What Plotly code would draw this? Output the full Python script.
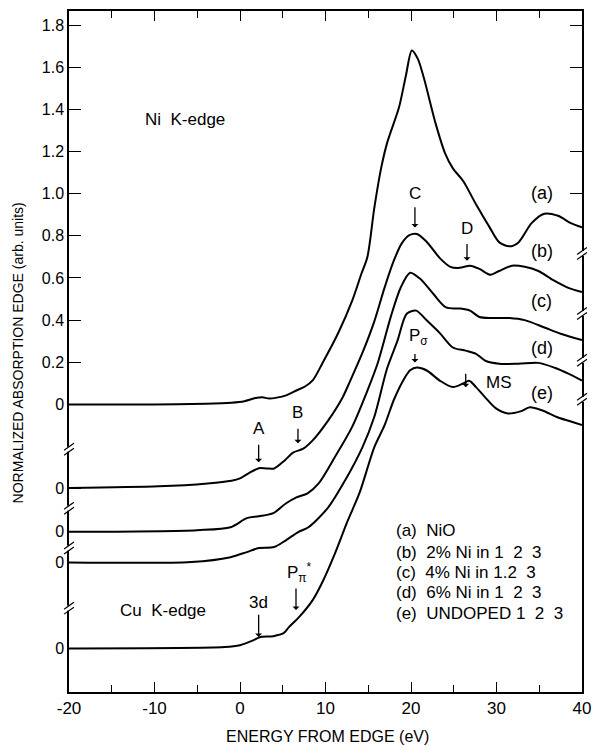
import plotly.graph_objects as go

# ---------------- data (energy in eV, normalized absorption) ----------------
energy_a = [-20, -10, -4, -1, 0.5, 1.8, 2.6, 3.4, 4.3, 5.4, 6.6, 7.6, 8.5, 9.7, 11.5, 13.1, 14.2, 14.9,
            15.7, 16.5, 17.2, 18.6, 19.4, 20.1, 20.8, 21.5, 22.9, 24.0, 24.9, 26.1, 27.6, 29.2, 30.3,
            31.5, 32.6, 34.1, 35.6, 37.2, 38.7, 40]
absorb_a = [0, 0, 0.003, 0.008, 0.015, 0.03, 0.034, 0.028, 0.032, 0.043, 0.066, 0.085, 0.114, 0.2, 0.34,
            0.49, 0.62, 0.70, 0.93, 1.12, 1.24, 1.41, 1.56, 1.68, 1.64, 1.55, 1.33, 1.19, 1.12, 1.06,
            0.95, 0.84, 0.77, 0.75, 0.77, 0.86, 0.905, 0.895, 0.86, 0.84]

energy_b = [-20, -9.5, -3.8, -1.0, 0, 1.0, 2.2, 3.1, 4.0, 5.2, 6.2, 7.4, 8.5, 10.3, 12.0, 12.9, 14.3,
            15.7, 16.9, 18.0, 18.9, 19.8, 20.7, 21.8, 23.4, 24.6, 25.7, 26.9, 28.0, 29.3, 30.3, 31.8,
            33.3, 34.9, 36.7, 38.4, 40]
absorb_b = [0, 0.008, 0.022, 0.035, 0.046, 0.07, 0.094, 0.093, 0.093, 0.13, 0.168, 0.187, 0.226, 0.32,
            0.43, 0.51, 0.64, 0.79, 0.95, 1.08, 1.16, 1.20, 1.206, 1.17, 1.09, 1.05, 1.045, 1.055, 1.04,
            1.012, 1.03, 1.055, 1.05, 1.03, 0.985, 0.95, 0.93]

energy_c = [-20, -5, -1.1, 0.8, 2.2, 3.9, 5.4, 6.6, 7.9, 9.2, 11.1, 13.1, 14.9, 16.1, 17.7, 18.8, 19.9,
            21.1, 22.6, 24.1, 25.7, 26.9, 28.0, 29.5, 31.5, 33.3, 35.6, 37.5, 40]
absorb_c = [0, 0.008, 0.022, 0.065, 0.074, 0.089, 0.136, 0.164, 0.183, 0.23, 0.355, 0.497, 0.67, 0.80,
            1.03, 1.16, 1.23, 1.20, 1.13, 1.065, 1.06, 1.05, 1.02, 1.015, 1.015, 1.005, 0.97, 0.94, 0.91]

energy_d = [-20, -5.7, -1.1, 0.8, 2.2, 4.0, 5.4, 6.8, 8.0, 10.3, 12.3, 14.3, 15.7, 17.2, 18.4, 19.5,
            20.6, 21.8, 23.4, 24.9, 26.4, 27.6, 28.7, 30.3, 32.6, 34.9, 36.8, 38.4, 40]
absorb_d = [0, 0.002, 0.025, 0.049, 0.068, 0.073, 0.106, 0.144, 0.167, 0.26, 0.39, 0.545, 0.69, 0.92,
            1.05, 1.18, 1.195, 1.15, 1.087, 1.02, 1.005, 0.99, 0.957, 0.943, 0.943, 0.947, 0.924, 0.896,
            0.863]

energy_e = [-20, -1.8, 0, 1.6, 2.3, 3.9, 5.1, 5.7, 6.9, 8.5, 9.7, 11.1, 12.6, 14.0, 15.7, 16.9, 18.0,
            19.2, 19.9, 20.7, 21.8, 23.4, 24.9, 26.1, 26.8, 27.6, 28.7, 29.9, 31.3, 32.8, 33.9, 35.3,
            37.2, 38.7, 40]
absorb_e = [0, 0.006, 0.015, 0.039, 0.053, 0.058, 0.072, 0.1, 0.148, 0.229, 0.32, 0.45, 0.606, 0.74,
            0.954, 1.058, 1.18, 1.28, 1.32, 1.333, 1.32, 1.27, 1.24, 1.257, 1.27, 1.24, 1.19, 1.14,
            1.115, 1.125, 1.144, 1.13, 1.096, 1.077, 1.06]

series_names = ["(a)", "(b)", "(c)", "(d)", "(e)"]
offsets = [0.0, -0.397, -0.605, -0.750, -1.158]   # vertical shift of each curve's zero

x_tick_vals = [-20, -10, 0, 10, 20, 30, 40]
x_tick_text = ["-20", "-10", "0", "10", "20", "30", "40"]
y_tick_vals = [1.8, 1.6, 1.4, 1.2, 1.0, 0.8, 0.6, 0.4, 0.2]
y_tick_text = ["1.8", "1.6", "1.4", "1.2", "1.0", "0.8", "0.6", "0.4", "0.2"]
right_tick_vals = [1.8, 1.6, 1.4, 1.2, 1.0]
left_breaks = [-0.213, -0.493, -0.682, -0.967]
right_breaks = [0.716, 0.431, 0.209, 0.024]

legend_lines = ["(a)\u00a0\u00a0NiO",
                "(b)\u00a0\u00a02% Ni in 1\u00a0\u00a02\u00a0\u00a03",
                "(c)\u00a0\u00a04% Ni in 1.2\u00a0\u00a03",
                "(d)\u00a0\u00a06% Ni in 1\u00a0\u00a02\u00a0\u00a03",
                "(e)\u00a0\u00a0UNDOPED 1\u00a0\u00a02\u00a0\u00a03"]

# ---------------------------------------------------------------------------
NARROW = "Liberation Sans Narrow, Arial Narrow, Liberation Sans, Arial, sans-serif"
REG = "Liberation Sans, Arial, Helvetica, sans-serif"
YMIN, YMAX = -1.365, 1.867

energies = [energy_a, energy_b, energy_c, energy_d, energy_e]
absorbs = [absorb_a, absorb_b, absorb_c, absorb_d, absorb_e]

fig = go.Figure()
for name, xs, ys, off in zip(series_names, energies, absorbs, offsets):
    fig.add_trace(go.Scatter(x=xs, y=[v + off for v in ys], mode="lines", name=name,
                             line=dict(color="black", width=2, shape="spline", smoothing=0.8),
                             hoverinfo="skip"))

# invisible trace for right axis
fig.add_trace(go.Scatter(x=[-20], y=[0], yaxis="y2", mode="markers", marker=dict(opacity=0),
                         hoverinfo="skip", showlegend=False))

tickvals = y_tick_vals + offsets
ticktext = y_tick_text + ["0"] * len(offsets)

fig.update_layout(
    width=600, height=750,
    margin=dict(l=69, r=9, t=10, b=58),
    plot_bgcolor="white", paper_bgcolor="white",
    showlegend=False,
    xaxis=dict(range=[-20, 40], tickvals=x_tick_vals, ticktext=x_tick_text, ticks="inside", ticklen=10,
               tickwidth=1.3, tickcolor="black", showline=True, linecolor="black", linewidth=1.5,
               mirror="ticks", showgrid=False, zeroline=False,
               minor=dict(dtick=5, tick0=-20, ticks="inside", ticklen=7, tickwidth=1.3, tickcolor="black",
                          showgrid=False),
               tickfont=dict(family=REG, size=17, color="black")),
    yaxis=dict(range=[YMIN, YMAX], tickvals=tickvals, ticktext=ticktext, ticks="inside", ticklen=12,
               tickwidth=1.3, tickcolor="black", showline=True, linecolor="black", linewidth=1.5,
               mirror=True, showgrid=False, zeroline=False,
               tickfont=dict(family=REG, size=16, color="black")),
    yaxis2=dict(range=[YMIN, YMAX], overlaying="y", side="right", anchor="x", tickvals=right_tick_vals,
                ticks="inside", ticklen=12, tickwidth=1.3, tickcolor="black", showticklabels=False,
                showline=False, showgrid=False, zeroline=False),
)

ann = []
def txt(x, y, s, size=17, xanchor="center", font=NARROW):
    ann.append(dict(x=x, y=y, xref="x", yref="y", text=s, showarrow=False, xanchor=xanchor,
                    yanchor="middle", font=dict(family=font, size=size, color="black")))

def arrow(x, y_head, y_tail):
    ann.append(dict(x=x, y=y_head, ax=x, ay=y_tail, xref="x", yref="y", axref="x", ayref="y",
                    text="", showarrow=True, arrowhead=1, arrowsize=0.9, arrowwidth=1.3,
                    arrowcolor="black"))

txt(-6.44, 1.351, "Ni\u00a0\u00a0K-edge")
txt(-8.97, -0.976, "Cu\u00a0\u00a0K-edge")
txt(2.18, -0.114, "A"); arrow(2.18, -0.275, -0.185)
txt(6.78, -0.038, "B"); arrow(6.78, -0.185, -0.109)
txt(2.18, -0.938, "3d"); arrow(2.18, -1.104, -0.991)
txt(6.9, -0.796, "P<sub>π</sub><sup>*</sup>"); arrow(6.55, -0.976, -0.867)
txt(20.46, 1.0, "C"); arrow(20.46, 0.839, 0.943)
txt(26.55, 0.834, "D"); arrow(26.55, 0.682, 0.768)
txt(20.92, 0.318, "P<sub>σ</sub>"); arrow(20.46, 0.199, 0.246)
txt(28.5, 0.104, "MS", xanchor="left"); arrow(26.4, 0.081, 0.152)

for name, yy in zip(series_names, [1.005, 0.730, 0.493, 0.270, 0.052]):
    txt(35.29, yy, name, size=18)

for line, yy in zip(legend_lines, [-0.597, -0.701, -0.796, -0.891, -0.991]):
    txt(18.05, yy, line, size=17, xanchor="left")

# axis titles
ann.append(dict(x=(332 - 69) / 522, y=(692 - 737) / 682, xref="paper", yref="paper",
                text="ENERGY FROM EDGE (eV)", showarrow=False, xanchor="center", yanchor="middle",
                font=dict(family=REG, size=16, color="black")))
ann.append(dict(x=(18 - 69) / 522, y=(692 - 352) / 682, xref="paper", yref="paper",
                text="NORMALIZED ABSORPTION EDGE (arb. units)", showarrow=False, textangle=-90,
                xanchor="center", yanchor="middle", font=dict(family=REG, size=14, color="black")))
fig.update_layout(annotations=ann)

# axis break marks
dx, dy = 1 / 522, 1 / 682
def ypap(u):
    return (u - YMIN) / (YMAX - YMIN)

shapes = []
for xa, brks in ((0.0, left_breaks), (1.0, right_breaks)):
    for b in brks:
        yc = ypap(b)
        shapes.append(dict(type="rect", xref="paper", yref="paper", x0=xa - 3 * dx, x1=xa + 3 * dx,
                           y0=yc - 2.5 * dy, y1=yc + 2.5 * dy, fillcolor="white", line=dict(width=0),
                           layer="above"))
        for k in (-1, 1):
            yy = yc + k * 2.5 * dy
            shapes.append(dict(type="line", xref="paper", yref="paper", x0=xa - 5 * dx, x1=xa + 5 * dx,
                               y0=yy - 3.5 * dy, y1=yy + 3.5 * dy, line=dict(color="black", width=1.2),
                               layer="above"))
fig.update_layout(shapes=shapes)

fig.write_html("out.html")
